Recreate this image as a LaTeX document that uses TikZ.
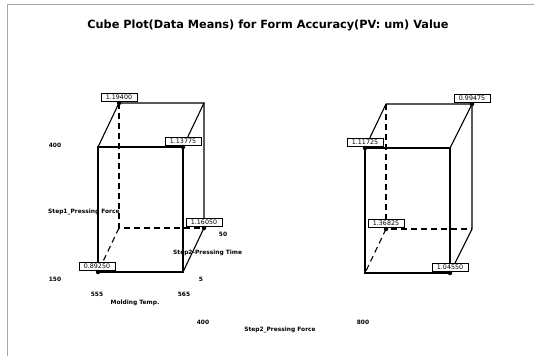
\documentclass[tikz,border=0pt]{standalone}
\usepackage{fontspec}
\setmainfont{DejaVu Sans}
\begin{document}
\begin{tikzpicture}[x=1pt,y=-1pt,
  edge/.style={line width=1.1pt},
  hid/.style={line width=1.1pt,dash pattern=on 6pt off 4pt},
  dot/.style={circle,fill=black,inner sep=0pt,minimum size=4.5pt},
  val/.style={draw,fill=white,line width=0.8pt,inner sep=0.8pt,minimum width=36pt,minimum height=8pt,font=\fontsize{6.3}{6.3}\selectfont},
  ax/.style={font=\bfseries\fontsize{5.9}{6}\selectfont,inner sep=0pt},
  ttl/.style={font=\bfseries\fontsize{11.3}{13}\selectfont,inner sep=0pt}]
\useasboundingbox (0,0) rectangle (534,356);
\fill[white] (0,0) rectangle (534,356);
\draw[gray!70,line width=0.8pt] (7,356) -- (7,4) -- (534,4);
\node[ttl] (title) at (268,25) {Cube Plot(Data Means) for Form Accuracy(PV: um) Value};
% left cube
\coordinate (A1) at (98,272); \coordinate (A2) at (183,272);
\coordinate (A3) at (183,147); \coordinate (A4) at (98,147);
\coordinate (B1) at (119,228); \coordinate (B2) at (204,228);
\coordinate (B3) at (204,103); \coordinate (B4) at (119,103);
\draw[edge] (A1) -- (A2) -- (A3) -- (A4) -- cycle;
\draw[edge] (A4) -- (B4) -- (B3) -- (A3);
\draw[edge] (B3) -- (B2) -- (A2);
\draw[hid] (B4) -- (B1) -- (B2);
\draw[hid] (B1) -- (A1);
\node[val] (lv1) at (119,97) {1.19400};
\node[val] (lv2) at (183,141) {1.13775};
\node[val] (lv3) at (204,222) {1.16050};
\node[val] (lv4) at (97,266) {0.89250};
\node[dot] (ld1) at (B4) {};
\node[dot] (ld2) at (A3) {};
\node[dot] (ld3) at (B2) {};
\node[dot] (ld4) at (A1) {};
% right cube
\coordinate (C1) at (365,273); \coordinate (C2) at (450,273);
\coordinate (C3) at (450,148); \coordinate (C4) at (365,148);
\coordinate (D1) at (386,229); \coordinate (D2) at (472,229);
\coordinate (D3) at (472,104); \coordinate (D4) at (386,104);
\draw[edge] (C1) -- (C2) -- (C3) -- (C4) -- cycle;
\draw[edge] (C4) -- (D4) -- (D3) -- (C3);
\draw[edge] (D3) -- (D2) -- (C2);
\draw[hid] (D4) -- (D1) -- (D2);
\draw[hid] (D1) -- (C1);
\node[val] (rv1) at (472,98) {0.99475};
\node[val] (rv2) at (365,142) {1.11725};
\node[val] (rv3) at (386,223) {1.36825};
\node[val] (rv4) at (450,267) {1.04550};
\node[dot] (rd1) at (D3) {};
\node[dot] (rd2) at (C4) {};
\node[dot] (rd3) at (D1) {};
\node[dot] (rd4) at (C2) {};
% axis texts
\node[ax] (t400) at (55,145) {400};
\node[ax,anchor=west] (tf1) at (48,212) {Step1\_Pressing Force};
\node[ax] (t150) at (55,279) {150};
\node[ax] (t555) at (97,294) {555};
\node[ax] (t565) at (184,294) {565};
\node[ax] (tmt) at (135,303) {Molding Temp.};
\node[ax] (t50) at (223,234) {50};
\node[ax,anchor=west] (tpt) at (173,253) {Step2-Pressing Time};
\node[ax] (t5) at (201,279) {5};
\node[ax] (tb400) at (203,322) {400};
\node[ax] (tf2) at (280,330) {Step2\_Pressing Force};
\node[ax] (t800) at (363,322) {800};
\end{tikzpicture}
\end{document}
